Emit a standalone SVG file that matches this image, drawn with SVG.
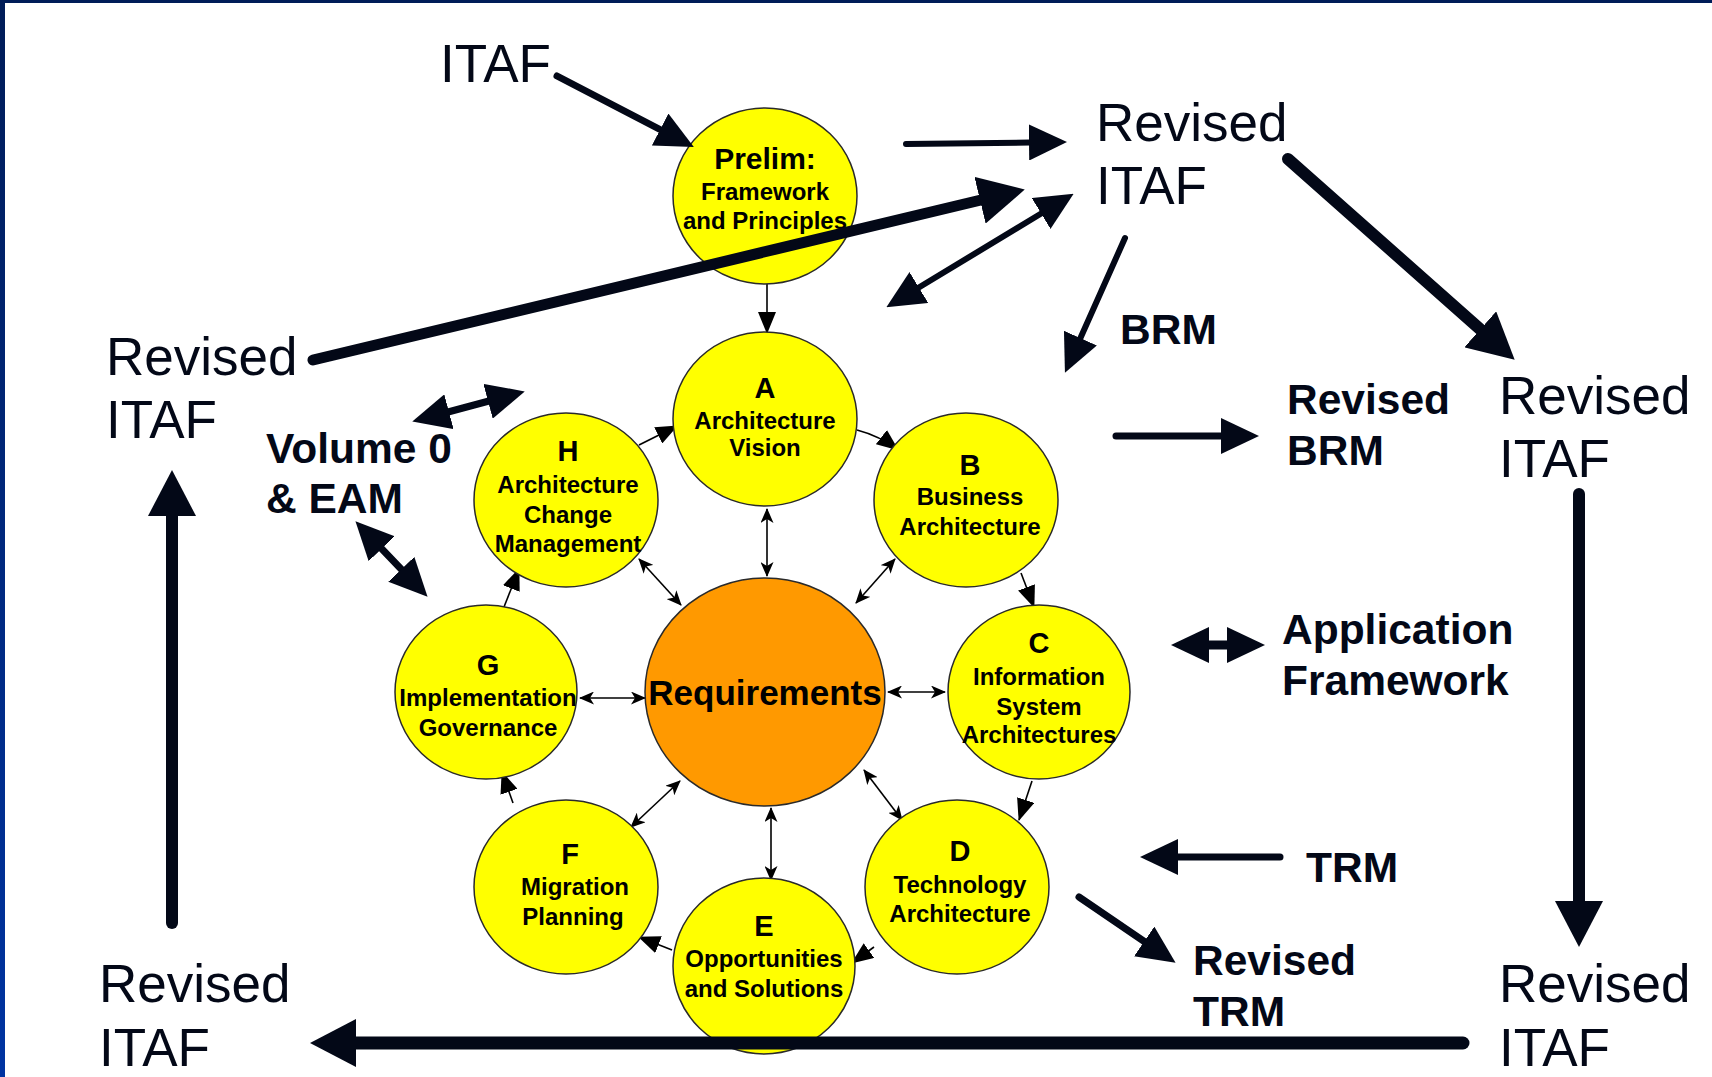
<svg xmlns="http://www.w3.org/2000/svg" width="1712" height="1077" viewBox="0 0 1712 1077">
  <defs>
    <linearGradient id="edgeGrad" x1="0" y1="0" x2="0" y2="1">
      <stop offset="0" stop-color="#001c58"/>
      <stop offset="1" stop-color="#0034a2"/>
    </linearGradient>
    <!-- heads: line ends at the head base, head extends forward -->
    <marker id="bigHead" markerUnits="userSpaceOnUse" viewBox="0 0 46 48" refX="1" refY="24" markerWidth="46" markerHeight="48" orient="auto-start-reverse">
      <path d="M0,0 L46,24 L0,48 Z" fill="#030817"/>
    </marker>
    <marker id="midHead" markerUnits="userSpaceOnUse" viewBox="0 0 38 36" refX="1" refY="18" markerWidth="38" markerHeight="36" orient="auto-start-reverse">
      <path d="M0,0 L38,18 L0,36 Z" fill="#030817"/>
    </marker>
    <marker id="seqHead" markerUnits="userSpaceOnUse" viewBox="0 0 22 18" refX="21" refY="9" markerWidth="22" markerHeight="18" orient="auto-start-reverse">
      <path d="M0,0 L22,9 L0,18 Z" fill="#000"/>
    </marker>
    <marker id="barbHead" markerUnits="userSpaceOnUse" viewBox="0 0 15 13" refX="14" refY="6.5" markerWidth="15" markerHeight="13" orient="auto-start-reverse">
      <path d="M0,0 L15,6.5 L0,13 L4,6.5 Z" fill="#000"/>
    </marker>
  </defs>
  <style>
    .phase { fill: #ffff00; stroke: #2a2a2a; stroke-width: 1.5; }
    .core { fill: #ff9900; stroke: #2a2a2a; stroke-width: 1.5; }
    .nt { font-family: "Liberation Sans", Arial, sans-serif; font-weight: bold; font-size: 24px; text-anchor: middle; fill: #000; }
    .nl { font-size: 29px; }
    .big { font-family: "Liberation Sans", Arial, sans-serif; font-size: 53px; fill: #030817; }
    .lab { font-family: "Liberation Sans", Arial, sans-serif; font-weight: bold; font-size: 42.5px; fill: #030817; }
    .thick { stroke: #030817; fill: none; stroke-linecap: round; }
    .thin { stroke: #000; stroke-width: 1.6; fill: none; }
  </style>

  <rect width="1712" height="1077" fill="#ffffff"/>
  <!-- frame edges -->
  <rect x="0" y="0" width="1712" height="3" fill="#001c58"/>
  <rect x="0" y="0" width="5" height="1077" fill="url(#edgeGrad)"/>

  <!-- small links between phases -->
  <g id="phase-links">
    <line class="thin" x1="767" y1="284" x2="767" y2="333" marker-end="url(#seqHead)"/>
    <path class="thin" d="M857,430 Q880,436 898,450" marker-end="url(#seqHead)"/>
    <line class="thin" x1="1021" y1="573" x2="1034" y2="607" marker-end="url(#seqHead)"/>
    <line class="thin" x1="1032" y1="781" x2="1019" y2="820" marker-end="url(#seqHead)"/>
    <line class="thin" x1="874" y1="947" x2="852" y2="963" marker-end="url(#seqHead)"/>
    <line class="thin" x1="672" y1="950" x2="639" y2="937" marker-end="url(#seqHead)"/>
    <line class="thin" x1="513" y1="803" x2="502" y2="772" marker-end="url(#seqHead)"/>
    <line class="thin" x1="504" y1="607" x2="519" y2="569" marker-end="url(#seqHead)"/>
    <line class="thin" x1="639" y1="445" x2="677" y2="426" marker-end="url(#seqHead)"/>
    <!-- links to the core -->
    <line class="thin" x1="767" y1="509" x2="767" y2="576" marker-start="url(#barbHead)" marker-end="url(#barbHead)"/>
    <line class="thin" x1="895" y1="559" x2="856" y2="603" marker-start="url(#barbHead)" marker-end="url(#barbHead)"/>
    <line class="thin" x1="945" y1="692" x2="888" y2="692" marker-start="url(#barbHead)" marker-end="url(#barbHead)"/>
    <line class="thin" x1="902" y1="820" x2="864" y2="770" marker-start="url(#barbHead)" marker-end="url(#barbHead)"/>
    <line class="thin" x1="771" y1="808" x2="771" y2="880" marker-start="url(#barbHead)" marker-end="url(#barbHead)"/>
    <line class="thin" x1="631" y1="827" x2="680" y2="781" marker-start="url(#barbHead)" marker-end="url(#barbHead)"/>
    <line class="thin" x1="580" y1="698" x2="645" y2="698" marker-start="url(#barbHead)" marker-end="url(#barbHead)"/>
    <line class="thin" x1="639" y1="559" x2="681" y2="605" marker-start="url(#barbHead)" marker-end="url(#barbHead)"/>
  </g>

  <g id="prelim">
    <ellipse class="phase" cx="765" cy="196" rx="92" ry="88"/>
    <text class="nt" x="765" y="169" style="font-size:30px">Prelim:</text>
    <text class="nt" x="765" y="200">Framework</text>
    <text class="nt" x="765" y="229">and Principles</text>
  </g>
  <g id="phase-a">
    <ellipse class="phase" cx="765" cy="419" rx="92" ry="87"/>
    <text class="nt nl" x="765" y="398">A</text>
    <text class="nt" x="765" y="429">Architecture</text>
    <text class="nt" x="765" y="456">Vision</text>
  </g>
  <g id="phase-b">
    <ellipse class="phase" cx="966" cy="500" rx="92" ry="87"/>
    <text class="nt nl" x="970" y="475">B</text>
    <text class="nt" x="970" y="505">Business</text>
    <text class="nt" x="970" y="535">Architecture</text>
  </g>
  <g id="phase-c">
    <ellipse class="phase" cx="1039" cy="692" rx="91" ry="87"/>
    <text class="nt nl" x="1039" y="653">C</text>
    <text class="nt" x="1039" y="685">Information</text>
    <text class="nt" x="1039" y="715">System</text>
    <text class="nt" x="1039" y="743">Architectures</text>
  </g>
  <g id="phase-d">
    <ellipse class="phase" cx="957" cy="887" rx="92" ry="87"/>
    <text class="nt nl" x="960" y="861">D</text>
    <text class="nt" x="960" y="893">Technology</text>
    <text class="nt" x="960" y="922">Architecture</text>
  </g>
  <g id="phase-e">
    <ellipse class="phase" cx="764" cy="966" rx="91" ry="88"/>
    <text class="nt nl" x="764" y="936">E</text>
    <text class="nt" x="764" y="967">Opportunities</text>
    <text class="nt" x="764" y="997">and Solutions</text>
  </g>
  <g id="phase-f">
    <ellipse class="phase" cx="566" cy="887" rx="92" ry="87"/>
    <text class="nt nl" x="570" y="864">F</text>
    <text class="nt" x="575" y="895">Migration</text>
    <text class="nt" x="573" y="925">Planning</text>
  </g>
  <g id="phase-g">
    <ellipse class="phase" cx="486" cy="692" rx="91" ry="87"/>
    <text class="nt nl" x="488" y="675">G</text>
    <text class="nt" x="488" y="706">Implementation</text>
    <text class="nt" x="488" y="736">Governance</text>
  </g>
  <g id="phase-h">
    <ellipse class="phase" cx="566" cy="500" rx="92" ry="87"/>
    <text class="nt nl" x="568" y="461">H</text>
    <text class="nt" x="568" y="493">Architecture</text>
    <text class="nt" x="568" y="523">Change</text>
    <text class="nt" x="568" y="552">Management</text>
  </g>
  <g id="requirements">
    <ellipse class="core" cx="765" cy="692" rx="120" ry="114"/>
    <text class="nt" x="765" y="705" style="font-size:35px">Requirements</text>
  </g>

  <!-- free labels -->
  <g id="itaf-start"><text class="big" x="440" y="82">ITAF</text></g>
  <g id="itaf-top">
    <text class="big" x="1096" y="141">Revised</text>
    <text class="big" x="1096" y="204">ITAF</text>
  </g>
  <g id="itaf-left">
    <text class="big" x="106" y="375">Revised</text>
    <text class="big" x="106" y="438">ITAF</text>
  </g>
  <g id="itaf-right">
    <text class="big" x="1499" y="414">Revised</text>
    <text class="big" x="1499" y="477">ITAF</text>
  </g>
  <g id="itaf-bottom-right">
    <text class="big" x="1499" y="1002">Revised</text>
    <text class="big" x="1499" y="1066">ITAF</text>
  </g>
  <g id="itaf-bottom-left">
    <text class="big" x="99" y="1002">Revised</text>
    <text class="big" x="99" y="1066">ITAF</text>
  </g>
  <g id="brm"><text class="lab" x="1120" y="344">BRM</text></g>
  <g id="revised-brm">
    <text class="lab" x="1287" y="414">Revised</text>
    <text class="lab" x="1287" y="465">BRM</text>
  </g>
  <g id="volume0">
    <text class="lab" x="266" y="463">Volume 0</text>
    <text class="lab" x="266" y="513">&amp; EAM</text>
  </g>
  <g id="app-framework">
    <text class="lab" x="1282" y="644">Application</text>
    <text class="lab" x="1282" y="695">Framework</text>
  </g>
  <g id="trm"><text class="lab" x="1306" y="882">TRM</text></g>
  <g id="revised-trm">
    <text class="lab" x="1193" y="975">Revised</text>
    <text class="lab" x="1193" y="1026">TRM</text>
  </g>

  <!-- flow arrows -->
  <g id="connectors">
    <line class="thick" stroke-width="7" x1="557" y1="76" x2="661" y2="130" marker-end="url(#midHead)"/>
    <line class="thick" stroke-width="6" x1="906" y1="144" x2="1030" y2="142.5" marker-end="url(#midHead)"/>
    <line class="thick" stroke-width="11" x1="313" y1="360" x2="981" y2="200" marker-end="url(#bigHead)"/>
    <line class="thick" stroke-width="6" stroke-linecap="butt" x1="918" y1="288" x2="1042" y2="213" marker-start="url(#midHead)" marker-end="url(#midHead)"/>
    <line class="thick" stroke-width="6" x1="1125" y1="238" x2="1080" y2="339" marker-end="url(#midHead)"/>
    <line class="thick" stroke-width="12" x1="1288" y1="159" x2="1481" y2="330" marker-end="url(#bigHead)"/>
    <line class="thick" stroke-width="7" x1="1116" y1="436" x2="1222" y2="436" marker-end="url(#midHead)"/>
    <line class="thick" stroke-width="7" stroke-linecap="butt" x1="448" y1="412" x2="489" y2="401" marker-start="url(#midHead)" marker-end="url(#midHead)"/>
    <line class="thick" stroke-width="7" stroke-linecap="butt" x1="381" y1="548" x2="402" y2="570" marker-start="url(#midHead)" marker-end="url(#midHead)"/>
    <line class="thick" stroke-width="9" stroke-linecap="butt" x1="1208" y1="645" x2="1228" y2="645" marker-start="url(#midHead)" marker-end="url(#midHead)"/>
    <line class="thick" stroke-width="7" x1="1280" y1="857" x2="1177" y2="857" marker-end="url(#midHead)"/>
    <line class="thick" stroke-width="7" x1="1079" y1="897" x2="1145" y2="942" marker-end="url(#midHead)"/>
    <line class="thick" stroke-width="12" x1="1579" y1="494" x2="1579" y2="902" marker-end="url(#bigHead)"/>
    <line class="thick" stroke-width="13" x1="1463" y1="1043" x2="355" y2="1043" marker-end="url(#bigHead)"/>
    <line class="thick" stroke-width="12" x1="172" y1="923" x2="172" y2="515" marker-end="url(#bigHead)"/>
  </g>
</svg>
